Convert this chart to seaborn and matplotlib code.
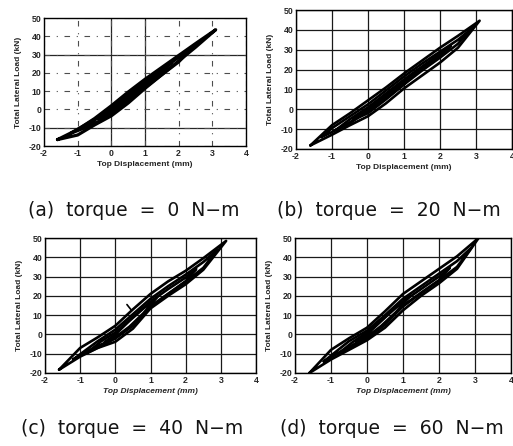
import matplotlib
matplotlib.use("Agg")
import matplotlib.pyplot as plt
import seaborn as sns
import pandas as pd

sns.set_theme(style="white")
plt.rcParams['font.family'] = ['Liberation Sans', 'DejaVu Sans']

captions = ["(a)  torque  =  0  N\u2212m", "(b)  torque  =  20  N\u2212m",
            "(c)  torque  =  40  N\u2212m", "(d)  torque  =  60  N\u2212m"]
x_ticks = [-2, -1, 0, 1, 2, 3, 4]
y_ticks = [-20, -10, 0, 10, 20, 30, 40, 50]
x_label = "Top Displacement (mm)"
y_label = "Total Lateral Load (kN)"

# ---- hysteresis loops: (displacement, upper-branch load, lower-branch load) ----
loops_a = [
    ([-1.6, -1.0, -0.5, 0.0, 0.5, 1.0, 1.5, 2.0, 2.5, 3.1],
     [-16.5, -11.0, -5.0, 2.0, 9.5, 16.5, 23.0, 29.5, 36.0, 43.6],
     [-16.5, -14.0, -8.5, -3.5, 3.5, 11.5, 19.0, 26.5, 34.0, 43.6]),
    ([-1.2, -0.5, 0.0, 0.5, 1.0, 1.5, 2.0, 2.5],
     [-13.0, -5.5, 1.0, 8.5, 15.5, 22.0, 28.5, 35.5],
     [-13.0, -8.0, -2.5, 4.5, 12.0, 19.0, 26.0, 35.5]),
    ([-0.8, -0.4, 0.0, 0.5, 1.0, 1.4, 1.8],
     [-10.0, -4.5, 0.5, 7.5, 14.5, 20.0, 26.0],
     [-10.0, -7.0, -2.0, 5.0, 12.5, 18.0, 26.0]),
    ([-0.4, 0.0, 0.5, 1.0],
     [-5.0, 0.0, 7.0, 14.5],
     [-5.0, -1.5, 5.0, 14.5]),
]
loops_b = [
    ([-1.6, -1.0, -0.5, 0.0, 0.5, 1.0, 1.5, 2.0, 2.5, 3.1],
     [-18.2, -8.0, -2.0, 4.5, 11.0, 18.0, 24.5, 31.0, 37.0, 44.6],
     [-18.2, -12.8, -8.0, -3.5, 3.0, 10.5, 17.0, 23.5, 31.0, 44.6]),
    ([-1.3, -1.0, -0.5, 0.0, 0.5, 1.0, 1.5, 2.0, 2.5, 2.9],
     [-14.0, -9.5, -3.5, 2.5, 9.5, 16.5, 23.0, 29.0, 35.0, 41.0],
     [-14.0, -11.5, -6.5, -1.5, 5.5, 12.5, 19.5, 26.0, 33.0, 41.0]),
    ([-0.9, -0.5, 0.0, 0.5, 1.0, 1.5, 2.0, 2.3],
     [-10.5, -5.0, 1.0, 8.0, 15.0, 21.5, 28.0, 32.0],
     [-10.5, -7.0, -0.5, 6.5, 13.5, 20.0, 26.5, 32.0]),
    ([-0.4, 0.0, 0.5, 1.0, 1.4],
     [-5.0, 0.0, 7.0, 14.0, 20.0],
     [-5.0, -2.0, 5.0, 12.5, 20.0]),
]
loops_c = [
    ([-1.6, -1.0, -0.5, 0.0, 0.5, 1.0, 1.5, 2.0, 2.5, 3.15],
     [-18.3, -7.0, -1.5, 4.5, 13.0, 21.0, 27.5, 33.0, 39.5, 48.5],
     [-18.3, -11.5, -7.0, -3.8, 3.0, 13.5, 20.0, 26.0, 33.5, 48.5]),
    ([-1.2, -0.5, 0.0, 0.5, 1.0, 1.5, 2.0, 2.5, 2.9],
     [-13.0, -3.5, 2.5, 10.5, 18.5, 25.0, 31.0, 37.5, 44.0],
     [-13.0, -6.0, -2.0, 4.5, 14.5, 21.0, 27.5, 34.5, 44.0]),
    ([-0.8, -0.4, 0.0, 0.5, 1.0, 1.5, 2.0, 2.3],
     [-9.5, -3.5, 1.0, 9.0, 17.0, 23.5, 29.5, 34.0],
     [-9.5, -6.0, -2.0, 5.0, 14.5, 21.0, 27.5, 34.0]),
    ([-0.3, 0.0, 0.4, 0.8, 1.2],
     [-4.0, 0.0, 7.0, 13.5, 19.5],
     [-4.0, -1.5, 4.0, 11.0, 19.5]),
]
loops_d = [
    ([-1.6, -1.0, -0.5, 0.0, 0.5, 1.0, 1.5, 2.0, 2.5, 3.1],
     [-20.0, -8.0, -2.0, 3.5, 12.0, 21.0, 27.5, 34.0, 40.5, 50.0],
     [-20.0, -13.0, -8.0, -3.0, 3.5, 12.5, 20.0, 26.5, 34.0, 50.0]),
    ([-1.2, -0.5, 0.0, 0.5, 1.0, 1.5, 2.0, 2.5, 2.9],
     [-14.0, -3.5, 2.0, 10.0, 18.5, 25.0, 31.5, 38.0, 45.0],
     [-14.0, -6.5, -1.5, 5.5, 14.5, 21.5, 28.0, 35.0, 45.0]),
    ([-0.8, -0.4, 0.0, 0.5, 1.0, 1.5, 2.0, 2.3],
     [-10.0, -4.0, 1.0, 9.0, 17.0, 23.5, 30.0, 34.5],
     [-10.0, -6.0, -2.0, 5.0, 15.0, 21.5, 28.0, 34.5]),
    ([-0.3, 0.0, 0.4, 0.8, 1.2],
     [-4.0, 0.0, 7.0, 14.0, 20.0],
     [-4.0, -1.5, 4.5, 11.5, 20.0]),
]
panels = [loops_a, loops_b, loops_c, loops_d]
# small pointer mark seen in panel (c)
mark_c_x = [0.33, 0.46]
mark_c_y = [15.5, 12.5]

line_widths = [2.3, 1.9, 1.9, 1.9]

rects = [
    [44 / 513, 1 - 146 / 446, 202 / 513, 128 / 446],
    [296 / 513, 1 - 149 / 446, 216 / 513, 139 / 446],
    [45 / 513, 1 - 373 / 446, 211 / 513, 135 / 446],
    [295 / 513, 1 - 373 / 446, 216 / 513, 135 / 446],
]
caption_pos = [(134 / 513, 1 - 210 / 446), (389 / 513, 1 - 210 / 446),
               (132 / 513, 1 - 428 / 446), (392 / 513, 1 - 428 / 446)]

fig = plt.figure(figsize=(5.13, 4.46), dpi=100)
for i, (loops, rect) in enumerate(zip(panels, rects)):
    ax = fig.add_axes(rect)
    for xs, up, lo in loops:
        path_x = list(xs) + list(xs[::-1])
        path_y = list(lo) + list(up[::-1])
        df = pd.DataFrame({"x": path_x, "y": path_y})
        sns.lineplot(data=df, x="x", y="y", sort=False, estimator=None,
                     color="black", linewidth=line_widths[i], ax=ax)
    if i == 2:
        sns.lineplot(x=mark_c_x, y=mark_c_y, sort=False, estimator=None,
                     color="black", linewidth=1.2, ax=ax)
    if i == 0:
        ax.grid(True, color="0.3", linestyle=(0, (5, 6, 1, 6)), linewidth=0.8)
        for yv in (30, -10):
            ax.axhline(yv, color="0.15", linewidth=0.9, zorder=0.5)
        for xv in (0, 1):
            ax.axvline(xv, color="0.15", linewidth=0.9, zorder=0.5)
    else:
        ax.grid(True, color="0.1", linestyle="-", linewidth=0.9)
    ax.set_axisbelow(True)
    ax.set_xlim(-2, 4)
    ax.set_ylim(-20, 50)
    ax.set_xticks(x_ticks)
    ax.set_yticks(y_ticks)
    ax.set_xticklabels([str(v) for v in x_ticks], fontsize=6.3, fontweight="bold")
    ax.set_yticklabels([str(v) for v in y_ticks], fontsize=6.3, fontweight="bold")
    ax.tick_params(axis="both", length=0, pad=2)
    style = "italic" if i >= 2 else "normal"
    ax.set_xlabel(x_label, fontsize=6, fontweight="bold", style=style, labelpad=2)
    ax.set_ylabel(y_label, fontsize=6, fontweight="bold", labelpad=5)
    for s in ax.spines.values():
        s.set_color("black")
        s.set_linewidth(1.0)
    fig.text(caption_pos[i][0], caption_pos[i][1], captions[i], fontsize=13.5,
             color="0.08", ha="center", va="center", family=["DejaVu Sans"])

fig.savefig("out.png", dpi=100)
